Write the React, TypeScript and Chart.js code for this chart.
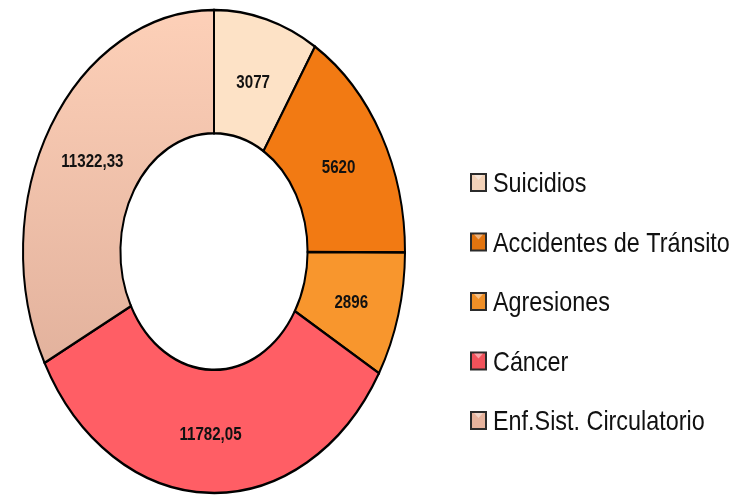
import React, { useEffect, useRef } from "react";
import { Chart, registerables } from "chart.js";

Chart.register(...registerables);

const categories = [
  "Suicidios",
  "Accidentes de Tránsito",
  "Agresiones",
  "Cáncer",
  "Enf.Sist. Circulatorio",
];
const values = [3077, 5620, 2896, 11782.05, 11322.33];
const valueLabels = ["3077", "5620", "2896", "11782,05", "11322,33"];
const colors = ["#FDE2C6", "#F27A13", "#F8962D", "#FF5E65", "#EDBAA2"];
const legendColors = ["#F3D2B8", "#E2740F", "#EF8F27", "#F0525B", "#E6B39D"];

const Y_SCALE = 1.264;
const LABEL_DY = 4;

const ellipsePlugin = {
  id: "ellipseDoughnut",
  beforeDatasetsDraw(chart: any) {
    const arc = chart.getDatasetMeta(0).data[0];
    const ctx = chart.ctx;
    ctx.save();
    ctx.translate(arc.x, arc.y);
    ctx.scale(1, Y_SCALE);
    ctx.translate(-arc.x, -arc.y);
  },
  afterDatasetsDraw(chart: any) {
    const ctx = chart.ctx;
    ctx.restore();
    const meta = chart.getDatasetMeta(0);
    meta.data.forEach((arc: any, i: number) => {
      const p = arc.tooltipPosition(false);
      const x = p.x;
      const y = arc.y + (p.y - arc.y) * Y_SCALE + LABEL_DY;
      ctx.save();
      ctx.translate(x, y);
      ctx.scale(0.84, 1);
      ctx.font = '700 18px "Liberation Sans", Arial, sans-serif';
      ctx.fillStyle = "#111111";
      ctx.textAlign = "center";
      ctx.textBaseline = "middle";
      ctx.fillText(valueLabels[i], 0, 0);
      ctx.restore();
    });
  },
};

const legendPlugin = {
  id: "customLegend",
  afterDraw(chart: any) {
    const ctx = chart.ctx;
    const baseX = 470;
    const firstBaseline = 192;
    const step = 59.5;
    categories.forEach((name, i) => {
      const base = firstBaseline + i * step;
      // box
      ctx.save();
      ctx.fillStyle = "#2b2b2b";
      ctx.fillRect(baseX, base - 19, 17, 19);
      ctx.fillStyle = legendColors[i];
      ctx.fillRect(baseX + 2, base - 17, 13, 15);
      ctx.fillStyle = "rgba(255,255,255,0.45)";
      ctx.beginPath();
      ctx.moveTo(baseX + 4, base - 17);
      ctx.lineTo(baseX + 13, base - 17);
      ctx.lineTo(baseX + 8.5, base - 12);
      ctx.closePath();
      ctx.fill();
      ctx.restore();
      // text
      ctx.save();
      ctx.translate(baseX + 23, base);
      ctx.scale(0.82, 1);
      ctx.font = '400 28.5px "Liberation Sans", Arial, sans-serif';
      ctx.fillStyle = "#111111";
      ctx.textAlign = "left";
      ctx.textBaseline = "alphabetic";
      ctx.fillText(name, 0, 0);
      ctx.restore();
    });
  },
};

export default function App() {
  const canvasRef = useRef<HTMLCanvasElement | null>(null);

  useEffect(() => {
    if (!canvasRef.current) return;
    const chart = new Chart(canvasRef.current, {
      type: "doughnut",
      data: {
        labels: categories,
        datasets: [
          {
            data: values,
            backgroundColor: (c: any) => {
              const i = c.dataIndex;
              const ch = c.chart;
              const area = ch.chartArea;
              if (i === 4 && area) {
                const cy = (area.top + area.bottom) / 2;
                const r = (area.right - area.left) / 2;
                const g = ch.ctx.createLinearGradient(0, cy - r, 0, cy + r);
                g.addColorStop(0, "#FDD0B8");
                g.addColorStop(1, "#D9A793");
                return g;
              }
              return colors[i];
            },
            borderColor: "#000000",
            borderWidth: 2,
            hoverBorderWidth: 2,
            hoverOffset: 0,
            borderJoinStyle: "miter",
          } as any,
        ],
      },
      options: {
        responsive: false,
        animation: false,
        cutout: "49%",
        rotation: 0,
        layout: { padding: { left: 22, right: 343, top: 5, bottom: 0 } },
        plugins: {
          legend: { display: false },
          tooltip: { enabled: false },
        },
        events: [],
      } as any,
      plugins: [ellipsePlugin, legendPlugin],
    });
    return () => chart.destroy();
  }, []);

  return (
    <div style={{ position: "fixed", left: 0, top: 0, width: 749, height: 498, background: "#ffffff" }}>
      <canvas ref={canvasRef} width={749} height={498} />
    </div>
  );
}
